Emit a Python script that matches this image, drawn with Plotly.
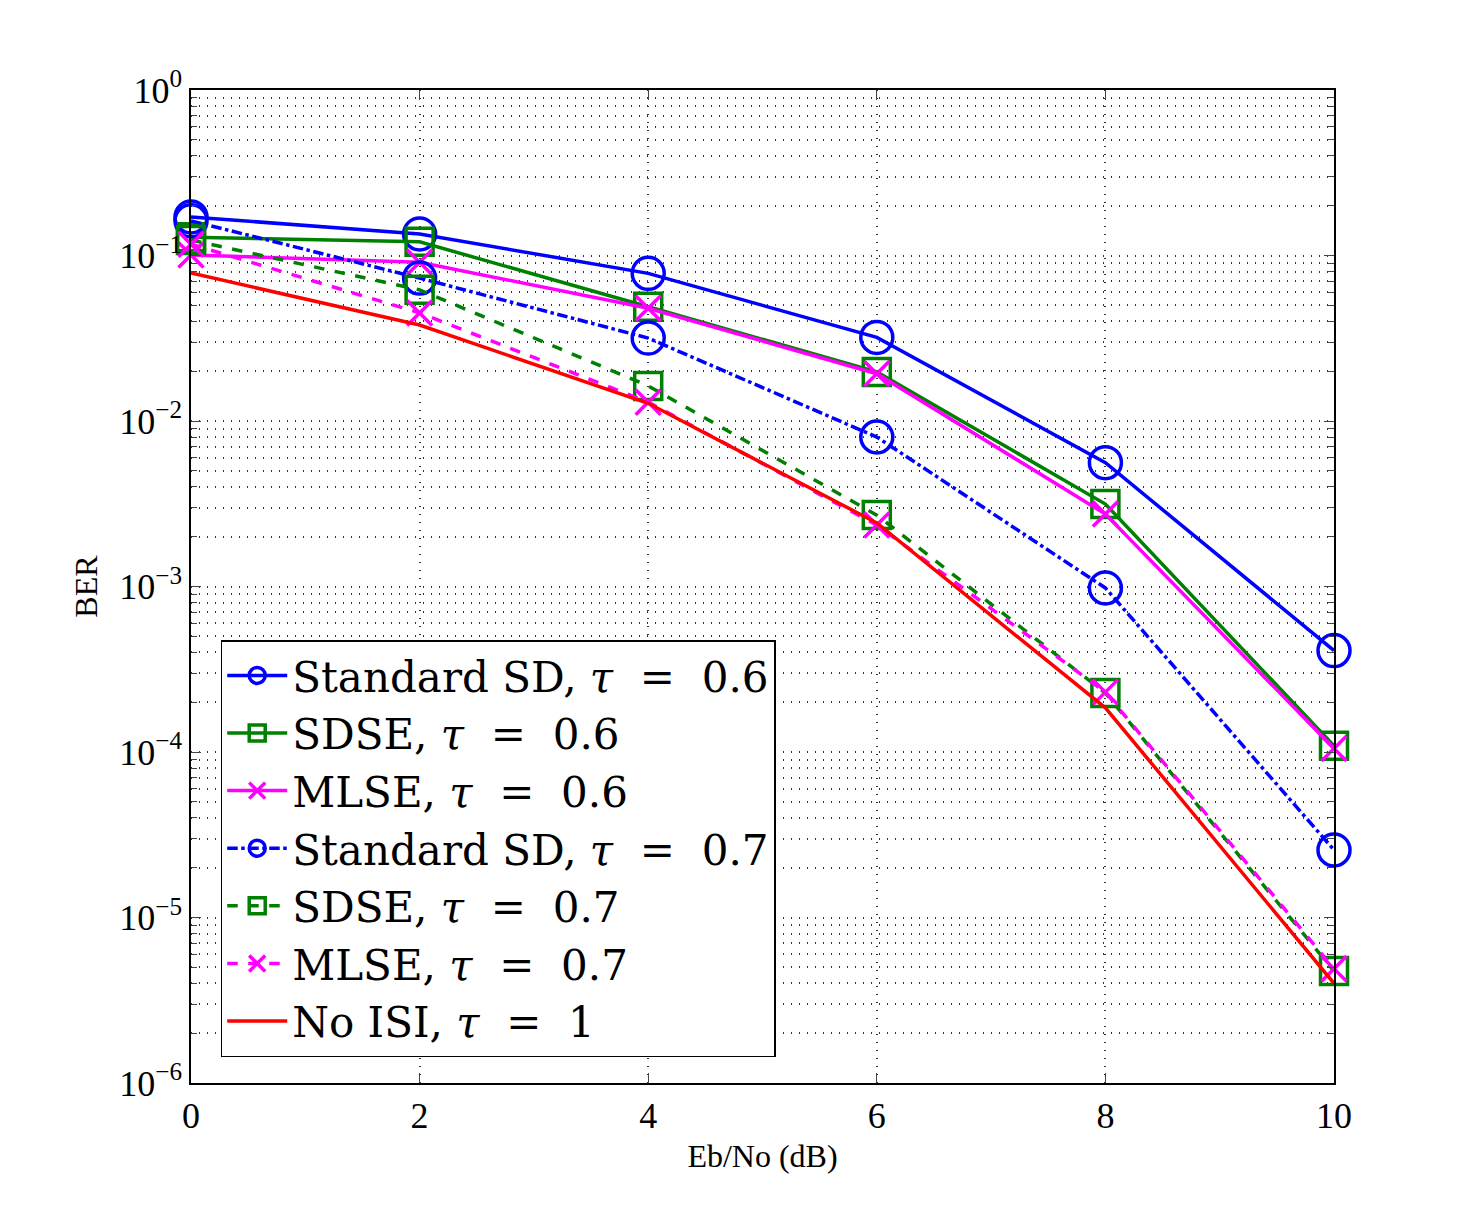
import plotly.graph_objects as go

ebno = [0, 2, 4, 6, 8, 10]

sd_06 = [0.171, 0.135, 0.078, 0.032, 0.0056, 4.1e-4]
sdse_06 = [0.129, 0.121, 0.049, 0.0198, 0.00315, 1.09e-4]
mlse_06 = [0.1007, 0.091, 0.048, 0.0193, 0.00274, 1.05e-4]
sd_07 = [0.162, 0.073, 0.0317, 0.0080, 9.8e-4, 2.56e-5]
sdse_07 = [0.124, 0.062, 0.0163, 0.0027, 2.27e-4, 4.75e-6]
mlse_07 = [0.117, 0.045, 0.0130, 0.00235, 2.3e-4, 4.9e-6]
no_isi = [0.0784, 0.038, 0.0128, 0.00242, 1.85e-4, 4.0e-6]

names = [
    "Standard SD, <i>τ</i>  =  0.6",
    "SDSE, <i>τ</i>  =  0.6",
    "MLSE, <i>τ</i>  =  0.6",
    "Standard SD, <i>τ</i>  =  0.7",
    "SDSE, <i>τ</i>  =  0.7",
    "MLSE, <i>τ</i>  =  0.7",
    "No ISI, <i>τ</i>  =  1",
]

ytick_vals = [1e0, 1e-1, 1e-2, 1e-3, 1e-4, 1e-5, 1e-6]
ytick_text = ["10<sup>0</sup>", "10<sup>−1</sup>", "10<sup>−2</sup>", "10<sup>−3</sup>",
              "10<sup>−4</sup>", "10<sup>−5</sup>", "10<sup>−6</sup>"]

BLUE = "#0000ff"
GREEN = "#008000"
MAG = "#ff00ff"
RED = "#ff0000"

styles = [
    (sd_06, BLUE, "solid", "circle-open", 32),
    (sdse_06, GREEN, "solid", "square-open", 27),
    (mlse_06, MAG, "solid", "x-thin-open", 25),
    (sd_07, BLUE, "dashdot", "circle-open", 32),
    (sdse_07, GREEN, "dash", "square-open", 27),
    (mlse_07, MAG, "dash", "x-thin-open", 25),
    (no_isi, RED, "solid", None, 0),
]

fig = go.Figure()
for (vals, col, dash, sym, sz), nm in zip(styles, names):
    if sym is None:
        fig.add_trace(go.Scatter(x=ebno, y=vals, mode="lines", name=nm, cliponaxis=False,
                                 line=dict(color=col, width=3.5, dash=dash)))
    else:
        fig.add_trace(go.Scatter(x=ebno, y=vals, mode="lines+markers", name=nm,
                                 cliponaxis=False,
                                 line=dict(color=col, width=3.5, dash=dash),
                                 marker=dict(symbol=sym, size=sz, color=col,
                                             line=dict(color=col, width=3.5))))

GRID = "#333333"
GDASH = "1px,7px"

fig.update_layout(
    width=1473, height=1217,
    margin=dict(l=191, r=139, t=90, b=134),
    plot_bgcolor="white", paper_bgcolor="white",
    font=dict(family="Liberation Serif", color="black", size=34),
    showlegend=True,
    legend=dict(x=0.026, y=0.446, xanchor="left", yanchor="top",
                bgcolor="white", bordercolor="black", borderwidth=1.5,
                font=dict(size=42, family="DejaVu Serif"),
                tracegroupgap=0, itemwidth=60),
)
fig.update_xaxes(
    range=[0, 10], tickvals=ebno, ticks="inside", ticklen=10,
    showline=True, linecolor="black", linewidth=1.5, mirror="ticks",
    showgrid=True, gridcolor=GRID, griddash=GDASH, gridwidth=1.5,
    zeroline=False,
    title=dict(text="Eb/No (dB)", font=dict(size=32), standoff=10),
    tickfont=dict(size=36),
)
fig.update_yaxes(
    type="log", range=[-6, 0], tickvals=ytick_vals, ticktext=ytick_text,
    ticks="inside", ticklen=10,
    showline=True, linecolor="black", linewidth=1.5, mirror="ticks",
    showgrid=True, gridcolor=GRID, griddash=GDASH, gridwidth=1.5,
    minor=dict(dtick="D1", ticks="inside", ticklen=6, showgrid=True,
               gridcolor=GRID, griddash=GDASH, gridwidth=1.5),
    zeroline=False,
    title=dict(text="BER", font=dict(size=32), standoff=12),
    tickfont=dict(size=36),
)

fig.write_html("out.html")
